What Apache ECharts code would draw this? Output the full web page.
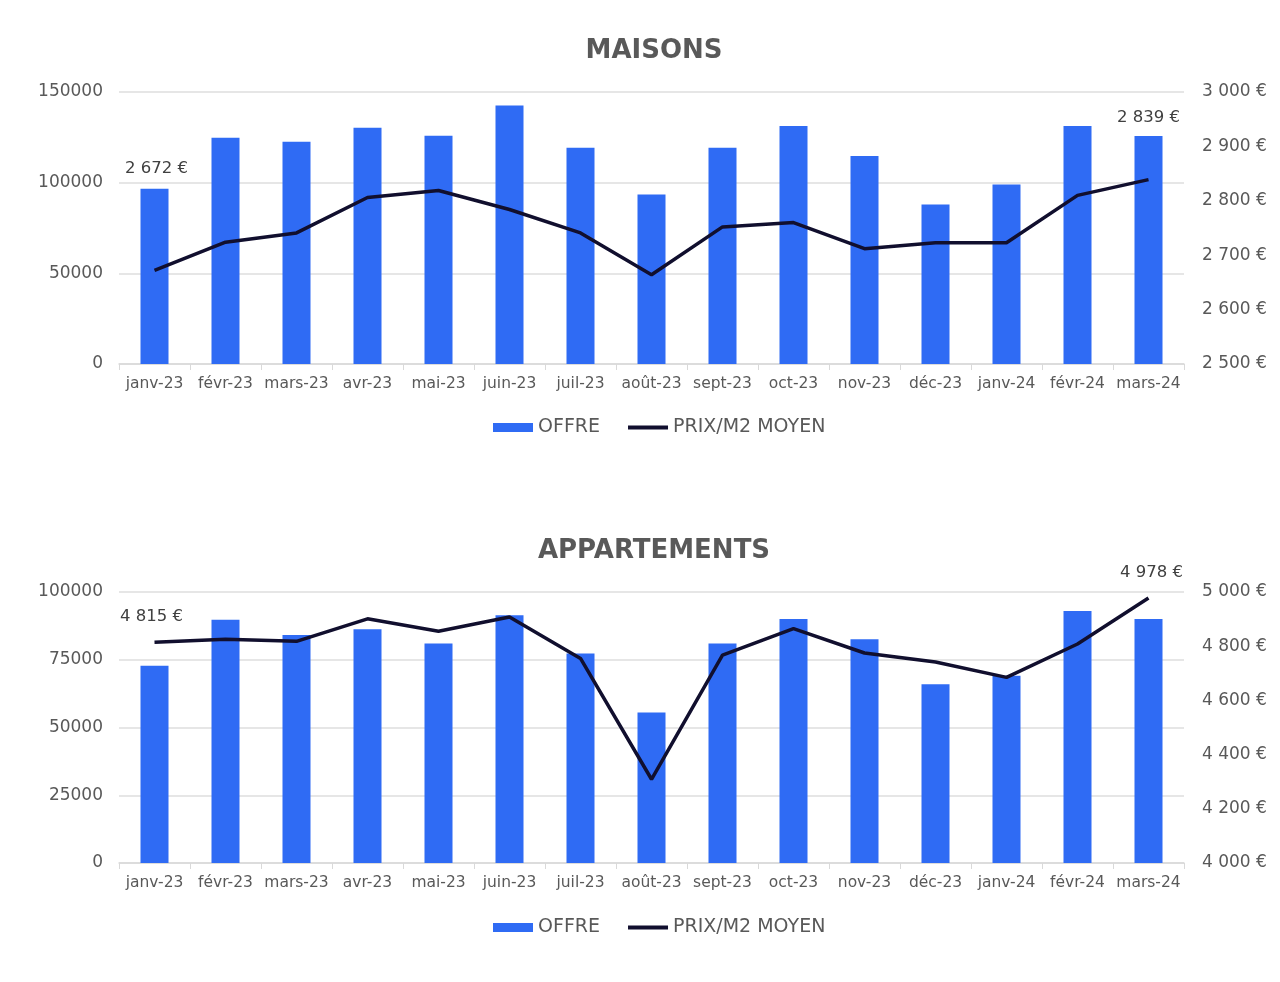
<!DOCTYPE html>
<html>
<head>
<meta charset="utf-8">
<script src="https://cdn.jsdelivr.net/npm/echarts@6/dist/echarts.min.js"></script>
<style>
html,body{margin:0;padding:0;background:#fff;}
#c{width:1280px;height:982px;}
</style>
</head>
<body>
<div id="c"></div>
<script>
const categories = ['janv-23','févr-23','mars-23','avr-23','mai-23','juin-23','juil-23','août-23','sept-23','oct-23','nov-23','déc-23','janv-24','févr-24','mars-24'];
const maisonsOffre = [96600,124800,122600,130300,125900,142600,119300,93500,119300,131200,114700,88000,99000,131200,125700];
const maisonsPrix = [2672,2724,2741,2806,2819,2784,2741,2664,2752,2760,2712,2723,2723,2810,2839];
const appartOffre = [72800,89800,84100,86300,81000,91400,77300,55500,81000,90000,82600,66000,69100,93000,90000];
const appartPrix = [4815,4826,4818,4901,4855,4908,4755,4309,4767,4865,4775,4742,4685,4808,4978];
const titles = ['MAISONS','APPARTEMENTS'];
const seriesNames = ['OFFRE','PRIX/M2 MOYEN'];

const FONT = 'DejaVu Sans';
const GREY = '#595959';
const BLUE = '#2F6BF4';
const NAVY = '#110f2e';

function fmt(v){ return String(v).replace(/\B(?=(\d{3})+(?!\d))/g,' ') + ' €'; }

function endLabels(arr, firstOff, lastOff){
  const last = arr.length - 1;
  return {
    symbol:'circle', symbolSize:0, silent:true,
    itemStyle:{color:NAVY, opacity:1},
    data:[0,last].map(i=>({
      coord:[i, arr[i]], value:arr[i],
      label:{show:true, position:'top', distance:5, offset: i===0?firstOff:lastOff,
        formatter: p=>fmt(p.value), fontFamily:FONT, fontSize:16.5, color:'#404040'}
    }))
  };
}

const grids = [
  {left:119, right:96, top:92, height:272},
  {left:119, right:96, top:592, height:271}
];

const xAxis = [0,1].map(i=>({
  type:'category', gridIndex:i, data:categories,
  axisLine:{lineStyle:{color:'#d9d9d9', width:1.5}},
  axisTick:{show:true, length:6, lineStyle:{color:'#d9d9d9'}},
  axisLabel:{color:GREY, fontFamily:FONT, fontSize:15.5, margin:12, interval:0}
}));

function yLeft(gi, max, interval){
  return {type:'value', gridIndex:gi, min:0, max:max, interval:interval, position:'left',
    axisLine:{show:false}, axisTick:{show:false},
    splitLine:{lineStyle:{color:'#dedede', width:1.5}},
    axisLabel:{color:GREY, fontFamily:FONT, fontSize:17, margin:16, formatter:v=>String(v)}};
}
function yRight(gi, min, max, interval){
  return {type:'value', gridIndex:gi, min:min, max:max, interval:interval, position:'right',
    axisLine:{show:false}, axisTick:{show:false}, splitLine:{show:false},
    axisLabel:{color:GREY, fontFamily:FONT, fontSize:17, margin:18, formatter:fmt}};
}

const option = {
  animation:false,
  backgroundColor:'#fff',
  title: titles.map((t,i)=>({
    text:t, left:649, top: i===0?33:533, textAlign:'center',
    textStyle:{fontFamily:FONT, fontWeight:'bold', fontSize:26, color:GREY}
  })),
  legend: [0,1].map(i=>({
    data:[{name:seriesNames[0], icon:'rect'}, {name:seriesNames[1], lineStyle:{width:4, color:NAVY}}],
    left:488, top: i===0?413:913,
    itemWidth:40, itemHeight:9, itemGap:26,
    textStyle:{fontFamily:FONT, fontSize:19, color:GREY}
  })),
  grid: grids,
  xAxis: xAxis,
  yAxis: [yLeft(0,150000,50000), yRight(0,2500,3000,100), yLeft(1,100000,25000), yRight(1,4000,5000,200)],
  series: [
    {name:seriesNames[0], type:'bar', xAxisIndex:0, yAxisIndex:0, data:maisonsOffre, barWidth:28, itemStyle:{color:BLUE}},
    {name:seriesNames[1], type:'line', xAxisIndex:0, yAxisIndex:1, data:maisonsPrix,
      symbol:'none', showSymbol:false, lineStyle:{color:NAVY, width:3.5, opacity:1}, itemStyle:{color:NAVY, opacity:0},
      markPoint: endLabels(maisonsPrix,[2,-88],[0,-48])},
    {name:seriesNames[0], type:'bar', xAxisIndex:1, yAxisIndex:2, data:appartOffre, barWidth:28, itemStyle:{color:BLUE}},
    {name:seriesNames[1], type:'line', xAxisIndex:1, yAxisIndex:3, data:appartPrix,
      symbol:'none', showSymbol:false, lineStyle:{color:NAVY, width:3.5, opacity:1}, itemStyle:{color:NAVY, opacity:0},
      markPoint: endLabels(appartPrix,[-3,-12],[3,-12])}
  ]
};

const chart = echarts.init(document.getElementById('c'), null, {renderer:'canvas'});
chart.setOption(option);
</script>
</body>
</html>
